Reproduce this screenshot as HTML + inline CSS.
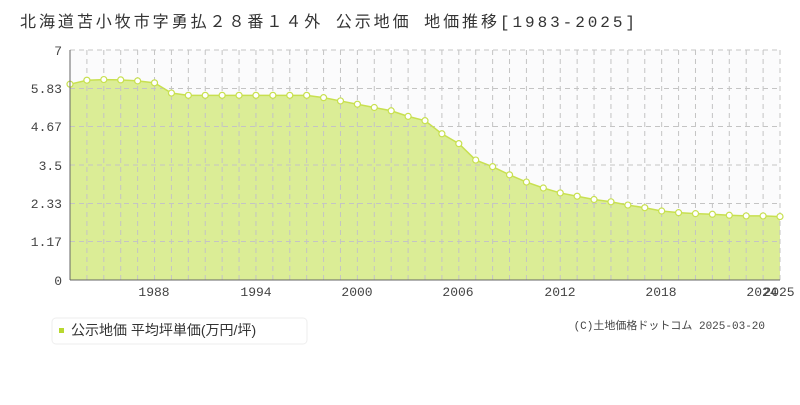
<!DOCTYPE html><html><head><meta charset="utf-8"><style>body{margin:0;background:#fff;width:800px;height:400px;overflow:hidden;font-family:"Liberation Mono","Noto Sans CJK JP",monospace}</style></head><body>
<svg width="800" height="400" xmlns="http://www.w3.org/2000/svg">
<text x="20" y="27" font-size="16" fill="#333" textLength="615" lengthAdjust="spacing" font-family="Liberation Mono,Noto Sans CJK JP,monospace">北海道苫小牧市字勇払２８番１４外 公示地価 地価推移[1983-2025]</text>
<rect x="70" y="50" width="710" height="230" fill="#fbfbfc"/>
<path id="area" fill="#dbed96"/>
<g id="g" stroke="#c4c4c4" stroke-dasharray="5,4" fill="none"></g>
<path id="line" fill="none" stroke="#c8e050" stroke-width="1.5"/>
<g id="pts"></g>
<line x1="70" y1="50" x2="70" y2="280" stroke="#666"/>
<line x1="70" y1="280" x2="780" y2="280" stroke="#666"/>
<g font-size="13" fill="#444" text-anchor="end">
<text x="62" y="55">7</text><text x="62" y="93">5.83</text><text x="62" y="131">4.67</text><text x="62" y="170">3.5</text><text x="62" y="208">2.33</text><text x="62" y="246">1.17</text><text x="62" y="285">0</text></g>
<g font-size="13" fill="#444" text-anchor="middle">
<text x="154" y="296">1988</text><text x="256" y="296">1994</text><text x="357" y="296">2000</text><text x="458" y="296">2006</text><text x="560" y="296">2012</text><text x="661" y="296">2018</text><text x="762" y="296">2024</text><text x="779" y="296">2025</text></g>
<rect x="52" y="318" width="255" height="26" rx="4" fill="#fff" stroke="#eee"/>
<rect x="59" y="328" width="5" height="5" fill="#b8d830"/>
<text x="71" y="335" font-size="14" fill="#333" font-family="Liberation Sans,Noto Sans CJK JP,sans-serif">公示地価 平均坪単価(万円/坪)</text>
<text x="765" y="329" font-size="11" fill="#444" text-anchor="end">(C)土地価格ドットコム 2025-03-20</text>
</svg>
<script>
var v=[5.96,6.08,6.1,6.09,6.06,6.0,5.69,5.62,5.62,5.62,5.62,5.62,5.62,5.62,5.62,5.55,5.45,5.35,5.25,5.15,4.98,4.85,4.45,4.15,3.65,3.45,3.2,2.98,2.8,2.65,2.55,2.45,2.38,2.28,2.2,2.1,2.05,2.02,2.0,1.97,1.95,1.95,1.93];
var X=i=>70+i*710/42,Y=a=>280-a*230/7;
var g=document.getElementById('g'),s='';
for(var i=1;i<=42;i++)s+=`<line x1="${X(i)}" y1="50" x2="${X(i)}" y2="280"/>`;
[7,5.83,4.67,3.5,2.33,1.17].forEach(a=>s+=`<line x1="70" y1="${Y(a)}" x2="780" y2="${Y(a)}"/>`);
g.innerHTML=s;
var d=v.map((a,i)=>(i?'L':'M')+X(i)+','+Y(a)).join('');
document.getElementById('line').setAttribute('d',d);
document.getElementById('area').setAttribute('d',d+'L780,280L70,280Z');
document.getElementById('pts').innerHTML=v.map((a,i)=>`<circle cx="${X(i)}" cy="${Y(a)}" r="3" fill="#fff" stroke="#c8e050" stroke-width="1.2"/>`).join('');
</script>
</body></html>
